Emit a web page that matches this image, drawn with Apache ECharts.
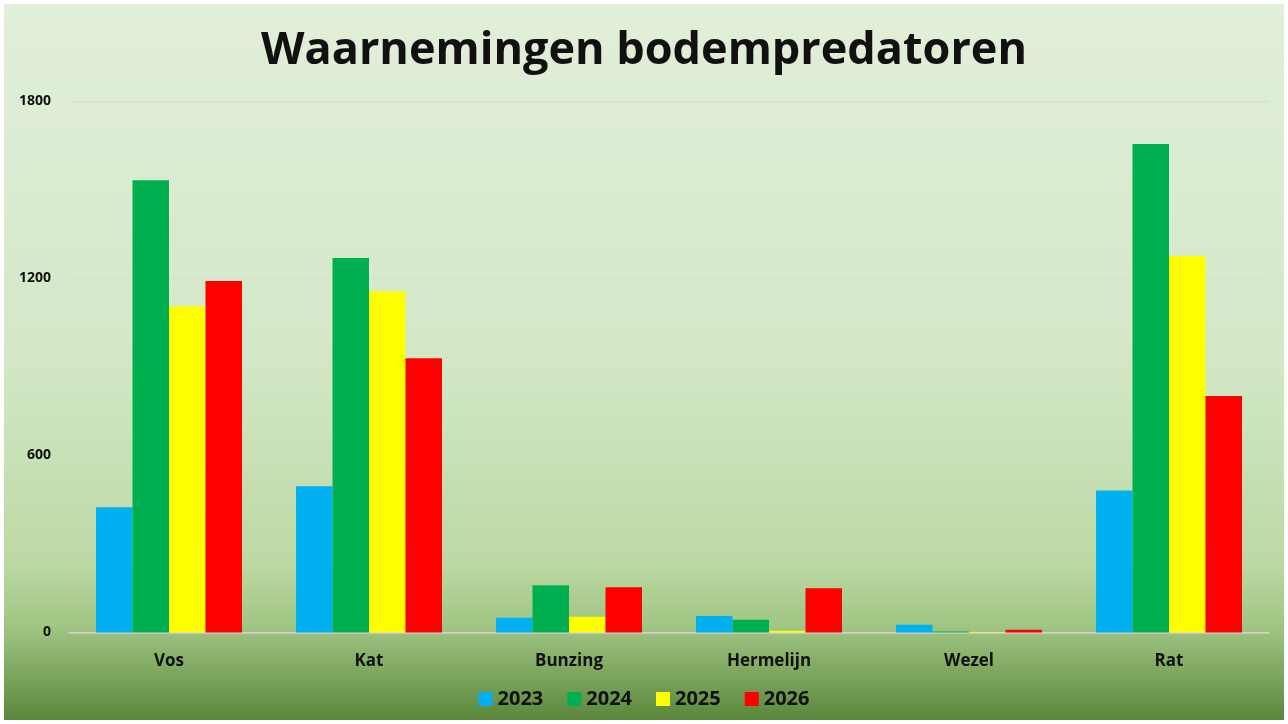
<!DOCTYPE html>
<html><head><meta charset="utf-8">
<script src="https://cdn.jsdelivr.net/npm/echarts@6/dist/echarts.min.js"></script>
<style>html,body{margin:0;padding:0;background:#fff}#c{width:1288px;height:724px}</style>
</head><body><div id="c"></div>
<script>
const categories = ['Vos','Kat','Bunzing','Hermelijn','Wezel','Rat'];
const years = ['2023','2024','2025','2026'];
const v2023 = [424, 495, 50, 56, 26, 481];
const v2024 = [1532, 1268, 160, 43, 3, 1654];
const v2025 = [1105, 1156, 53, 6, 2, 1275];
const v2026 = [1190, 929, 153, 150, 9, 801];
const yTicks = [0, 600, 1200, 1800];
const colors = ['#00b0f0','#00b050','#ffff00','#ff0000'];
const seriesValues = [v2023, v2024, v2025, v2026];

const chart = echarts.init(document.getElementById('c'));
const font = '"Open Sans", "Noto Sans", sans-serif';
chart.setOption({
  backgroundColor: '#ffffff',
  graphic: [{
    type: 'rect', z: -10, silent: true,
    shape: {x: 4, y: 4, width: 1280, height: 716},
    style: {fill: new echarts.graphic.LinearGradient(0,0,0,1,[
      {offset:0, color:'#e2efda'},
      {offset:0.5, color:'#d3e7c6'},
      {offset:0.78, color:'#bcd9a4'},
      {offset:0.87, color:'#a0c583'},
      {offset:1, color:'#5a873a'}
    ])}
  }],
  title: {
    text: 'Waarnemingen bodempredatoren',
    left: 'center', top: 24,
    textStyle: {fontFamily: font, fontWeight: 'bold', fontSize: 45, color: '#111'}
  },
  legend: {
    data: years, bottom: 10, left: 'center',
    itemWidth: 14, itemHeight: 14, itemGap: 24, icon: 'rect',
    textStyle: {fontFamily: font, fontWeight: 'bold', fontSize: 20, color: '#111'}
  },
  grid: {left: 69, right: 19, top: 101, bottom: 91.5, containLabel: false},
  xAxis: {
    type: 'category', data: categories,
    axisLine: {lineStyle: {color: '#d0d0d0', width: 1.5}},
    axisTick: {show: false},
    axisLabel: {fontFamily: font, fontWeight: 'bold', fontSize: 17, color: '#111', margin: 20}
  },
  yAxis: {
    type: 'value', min: yTicks[0], max: yTicks[yTicks.length-1], interval: 600,
    axisLine: {show: false}, axisTick: {show: false},
    splitLine: {lineStyle: {color: '#d6dcd2', width: 1}},
    axisLabel: {fontFamily: font, fontWeight: 'bold', fontSize: 14, color: '#111', margin: 18,
      formatter: v => String(v)}
  },
  series: years.map((y, i) => ({
    name: y, type: 'bar', data: seriesValues[i],
    barGap: '0%', barCategoryGap: '27%',
    itemStyle: {color: colors[i]}
  }))
});
</script></body></html>
